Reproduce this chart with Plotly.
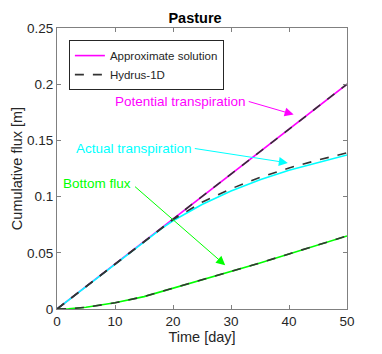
import plotly.graph_objects as go

# time [day]
days = [0, 2, 5, 10, 15, 18, 20, 25, 30, 35, 40, 45, 50]

# cumulative fluxes [m]
pot_approx = [0, 0.008, 0.02, 0.04, 0.06, 0.072, 0.08, 0.1, 0.12, 0.14, 0.16, 0.18, 0.2]
pot_hydrus = [0, 0.008, 0.02, 0.04, 0.06, 0.072, 0.08, 0.1, 0.12, 0.14, 0.16, 0.18, 0.2]
act_approx = [0, 0.008, 0.02, 0.04, 0.06, 0.0715, 0.0785, 0.093, 0.105, 0.115, 0.1235, 0.1305, 0.137]
act_hydrus = [0, 0.008, 0.02, 0.04, 0.06, 0.072, 0.0795, 0.095, 0.107, 0.117, 0.1255, 0.1325, 0.139]
bot_approx = [0, 0.0002, 0.0015, 0.0055, 0.011, 0.0155, 0.0185, 0.0255, 0.033, 0.041, 0.049, 0.057, 0.065]
bot_hydrus = [0, 0.0002, 0.0015, 0.0055, 0.011, 0.0155, 0.0185, 0.0255, 0.033, 0.041, 0.049, 0.057, 0.065]

MAG = "#ff00ff"
CYA = "#00ffff"
GRN = "#00ff00"
DASH = "#333333"

fig = go.Figure()
for yv, col, show in [(pot_approx, MAG, True), (act_approx, CYA, False), (bot_approx, GRN, False)]:
    fig.add_trace(go.Scatter(x=days, y=yv, mode="lines", line=dict(color=col, width=1.6),
                             name="Approximate solution", showlegend=show))
for yv, show in [(pot_hydrus, True), (act_hydrus, False), (bot_hydrus, False)]:
    fig.add_trace(go.Scatter(x=days, y=yv, mode="lines", line=dict(color=DASH, width=1.6, dash="dash"),
                             name="Hydrus-1D", showlegend=show))

# labels (text) and arrows
labels = [
    ("Potential transpiration", MAG, 21.3, 0.185, 40.8, 0.173, 32.8, 0.185),
    ("Actual transpiration", CYA, 13.3, 0.143, 39.8, 0.130, 23.5, 0.143),
    ("Bottom flux", GRN, 6.9, 0.112, 29.0, 0.039, 13.2, 0.110),
]
for txt, col, tx, ty, hx, hy, sx, sy in labels:
    fig.add_annotation(x=tx, y=ty, text=txt, showarrow=False,
                       font=dict(color=col, size=13.5))
    fig.add_annotation(x=hx, y=hy, ax=sx, ay=sy, axref="x", ayref="y", text="",
                       showarrow=True, arrowhead=2, arrowsize=1.8, arrowwidth=1,
                       arrowcolor=col, standoff=0, startstandoff=0)

axis_common = dict(showline=True, linecolor="#808080", linewidth=1, mirror="ticks",
                   ticks="inside", ticklen=4, tickcolor="#808080", showgrid=False,
                   zeroline=False, automargin=False, tickfont=dict(size=13.5, color="#262626"))

# page body has an 8px margin, so the figure is sized to the remaining window
fig.update_layout(
    width=374, height=346,
    margin=dict(l=49, r=35, t=20, b=45),
    paper_bgcolor="white", plot_bgcolor="white",
    font=dict(family="Liberation Sans, Arial, sans-serif", color="#262626"),
    title=dict(text="<b>Pasture</b>", x=0.5, xanchor="center", y=0.972, yanchor="middle",
               font=dict(size=14.5, color="black"), automargin=False),
    xaxis=dict(range=[0, 50], tickvals=[0, 10, 20, 30, 40, 50],
               title=dict(text="Time [day]", font=dict(size=14.5), standoff=2), **axis_common),
    yaxis=dict(range=[0, 0.25], tickvals=[0, 0.05, 0.1, 0.15, 0.2, 0.25],
               ticktext=["0", "0.05", "0.1", "0.15", "0.2", "0.25"],
               title=dict(text="Cumulative flux [m]", font=dict(size=14.5), standoff=0), **axis_common),
    legend=dict(x=0.041, y=0.957, xanchor="left", yanchor="top", bgcolor="white",
                bordercolor="#262626", borderwidth=1, font=dict(size=11.5, color="#262626"),
                tracegroupgap=0, itemwidth=30),
)

fig.write_html("out.html")
